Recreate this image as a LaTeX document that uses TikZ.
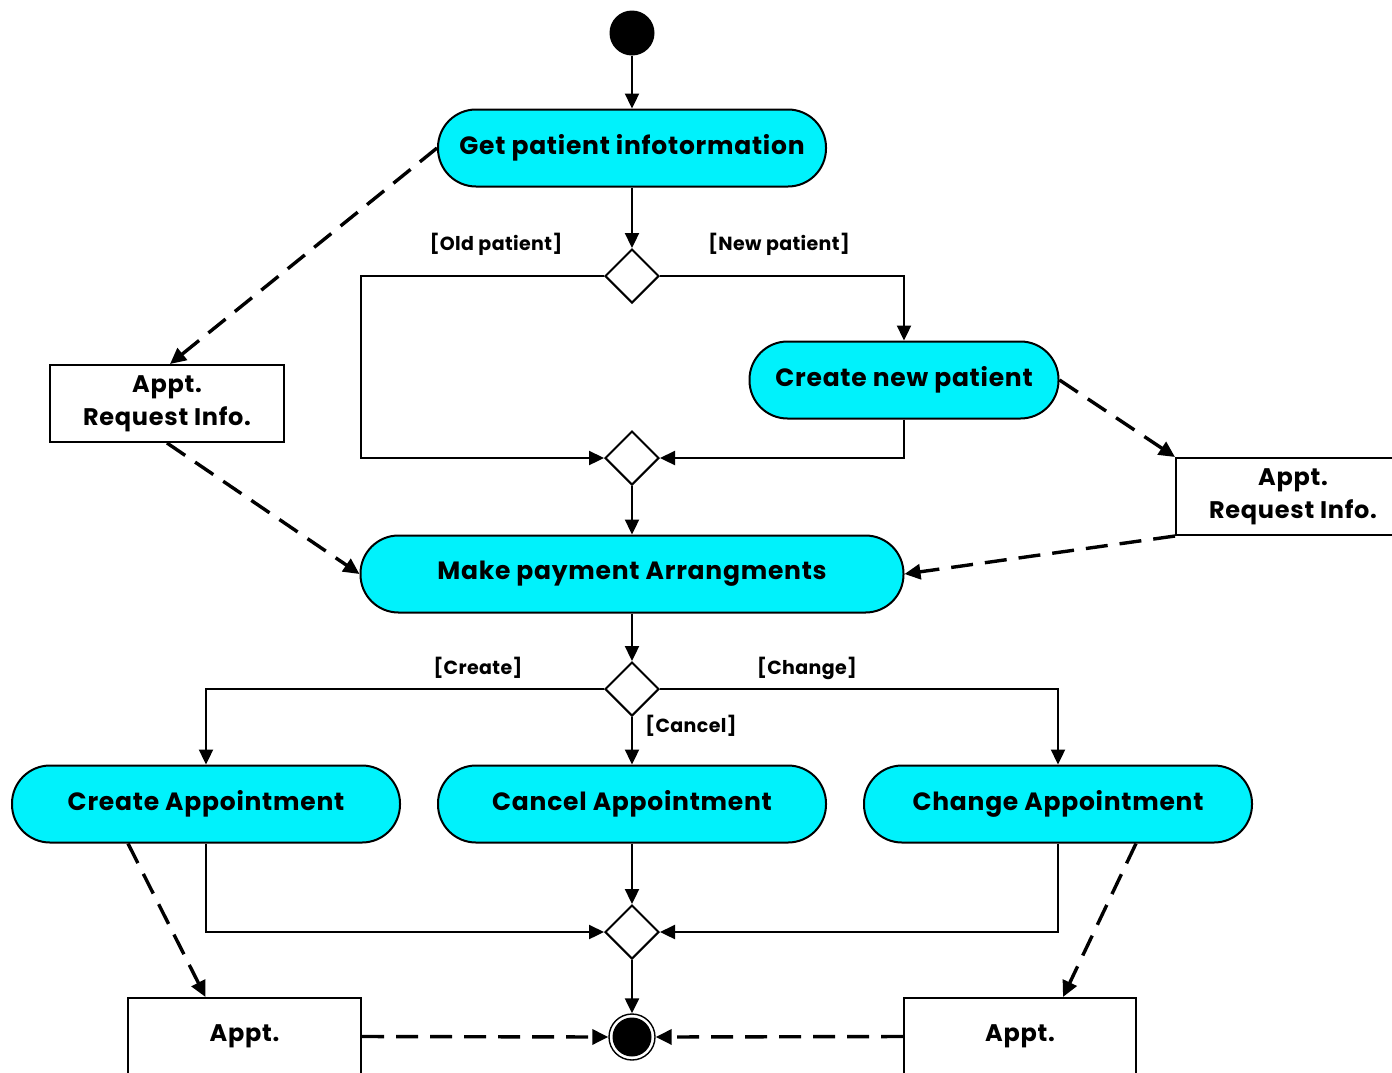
\documentclass[tikz,border=0pt]{standalone}
\usepackage{fontspec}
\setmainfont{Poppins}
\usetikzlibrary{arrows.meta,shapes.geometric,calc}
\definecolor{actfill}{RGB}{0,242,252}
\tikzset{
  activity/.style={draw=black, line width=2pt, fill=actfill, rounded corners=38pt,
    minimum height=77pt, inner sep=0pt,
    font=\fontsize{25}{28}\selectfont\bfseries\addfontfeature{LetterSpace=3}},
  objbox/.style={draw=black, line width=2pt, fill=white, minimum width=234pt,
    minimum height=77pt, inner sep=0pt, align=center,
    font=\fontsize{24}{33}\selectfont\bfseries\addfontfeature{LetterSpace=3}},
  decision/.style={draw=black, line width=2pt, fill=white, diamond, aspect=1,
    minimum width=54pt, minimum height=54pt, inner sep=0pt},
  guard/.style={font=\fontsize{19}{21}\selectfont\bfseries\addfontfeature{LetterSpace=2}, inner sep=0pt},
  flow/.style={line width=2.3pt, -{Triangle[length=15pt,width=14pt]}},
  objflow/.style={line width=3.4pt, dash pattern=on 22pt off 12pt,
    -{Triangle[length=16pt,width=15pt]}},
}
\begin{document}
\begin{tikzpicture}[x=1pt,y=-1pt]
\useasboundingbox (0,0) rectangle (1392,1072);
\clip (0,0) rectangle (1392,1072);
\fill[white] (0,0) rectangle (1392,1072);

% initial and final states
\node[circle, fill=black, minimum size=45pt, inner sep=0pt] (start) at (632,33) {};
\node[circle, draw=black, line width=1.4pt, minimum size=46pt, inner sep=0pt] (stop) at (632,1037) {};
\fill[black] (stop.center) circle (19.5pt);

% activities
\node[activity, minimum width=388pt] (getinfo) at (632,148) {Get patient infotormation};
\node[activity, minimum width=309pt] (newp) at (904,380) {Create new patient};
\node[activity, minimum width=543pt] (pay) at (632,574) {Make payment Arrangments};
\node[activity, minimum width=388pt] (createA) at (206,804) {Create Appointment};
\node[activity, minimum width=388pt] (cancelA) at (632,804) {Cancel Appointment};
\node[activity, minimum width=388pt] (changeA) at (1058,804) {Change Appointment};

% decision / merge nodes
\node[decision] (d1) at (632,276) {};
\node[decision] (d2) at (632,458) {};
\node[decision] (d3) at (632,689) {};
\node[decision] (d4) at (632,932) {};

% object nodes
\node[objbox] (req1) at (167,403.5) {Appt.\\Request Info.};
\node[objbox] (req2) at (1293,496.5) {Appt.\\Request Info.};
\node[objbox, minimum width=233pt] (appt1) at (244.5,1036.5) {Appt.};
\node[objbox, minimum width=232pt] (appt2) at (1020,1036.5) {Appt.};

% guards
\node[guard] (gold) at (496,244) {[Old patient]};
\node[guard] (gnew) at (779,244) {[New patient]};
\node[guard] (gcreate) at (478,668) {[Create]};
\node[guard] (gchange) at (807,668) {[Change]};
\node[guard] (gcancel) at (691,726) {[Cancel]};

% control flow
\coordinate (oldL) at (361,276);
\draw[flow] (start) -- (getinfo);
\draw[flow] (getinfo) -- (d1);
\draw[flow] (d1.west) -- (oldL) |- (d2.west);
\draw[flow] (d1.east) -| (newp.north);
\draw[flow] (newp.south) |- (d2.east);
\draw[flow] (d2) -- (pay);
\draw[flow] (pay) -- (d3);
\draw[flow] (d3.west) -| (createA.north);
\draw[flow] (d3.east) -| (changeA.north);
\draw[flow] (d3) -- (cancelA);
\draw[flow] (createA.south) |- (d4.west);
\draw[flow] (changeA.south) |- (d4.east);
\draw[flow] (cancelA) -- (d4);
\draw[flow] (d4) -- (stop);

% object flow
\draw[objflow] (getinfo.west) -- ([xshift=3pt]req1.north);
\draw[objflow] (req1.south) -- (pay.west);
\draw[objflow] (newp.east) -- (req2.north west);
\draw[objflow] (req2.south west) -- (pay.east);
\draw[objflow] ([xshift=-78pt]createA.south) -- ([xshift=-39pt]appt1.north);
\draw[objflow] ([xshift=78pt]changeA.south) -- ([xshift=43pt]appt2.north);
\draw[objflow] (appt1.east) -- (stop.west);
\draw[objflow] (appt2.west) -- (stop.east);
\end{tikzpicture}
\end{document}
